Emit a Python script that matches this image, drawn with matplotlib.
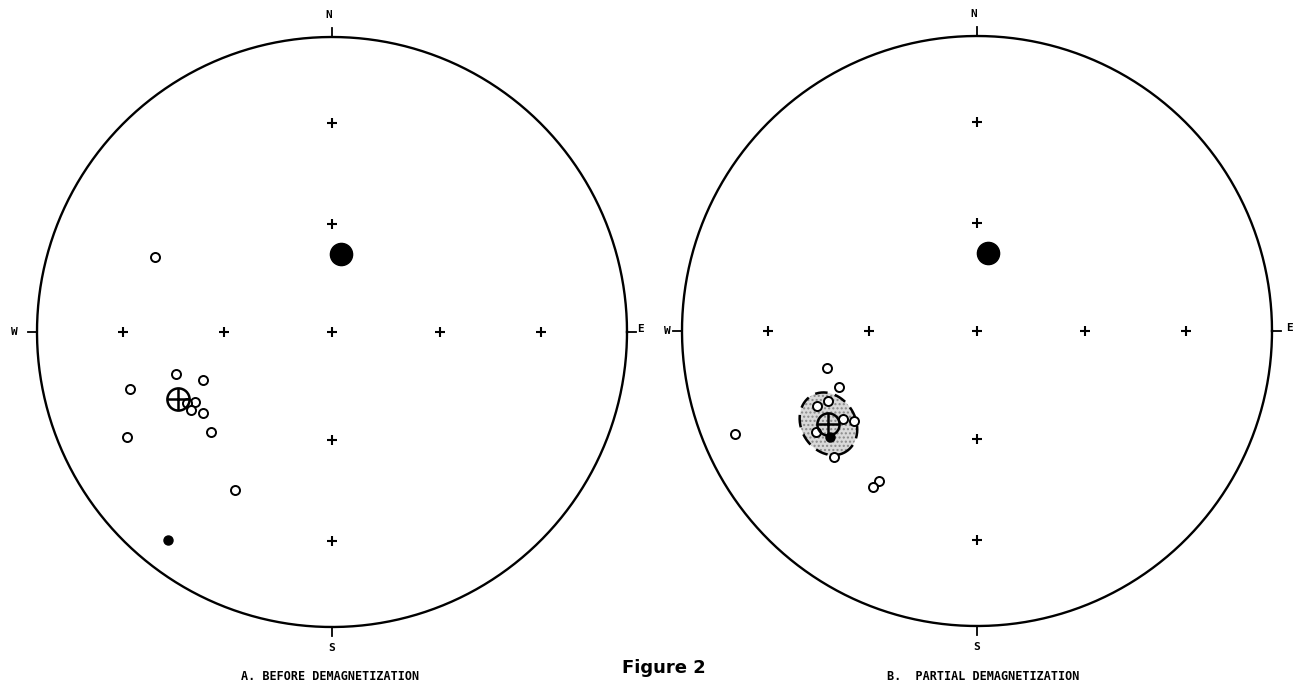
import numpy as np
import matplotlib
matplotlib.use("Agg")
import matplotlib.pyplot as plt
from matplotlib.patches import Polygon

# ---------------- data (declination, inclination in degrees) ----------------
# A. Before demagnetization
a_open_dec = [293.0, 255.0, 249.6, 254.2, 242.8, 243.9, 241.0, 238.0, 243.0, 230.3, 211.5]
a_open_inc = [35.0, 44.6, 51.4, 29.6, 46.7, 44.6, 44.7, 47.1, 23.0, 45.7, 37.2]
a_solid_dec = [218.3]
a_solid_inc = [11.2]
a_mean_dec, a_mean_inc = 246.5, 42.5
a_field_dec, a_field_inc = 6.6, 68.3

# B. Partial demagnetization
b_open_dec = [247.0, 256.0, 247.8, 244.9, 244.9, 236.7, 234.0, 237.8, 228.7, 213.2, 213.7]
b_open_inc = [11.9, 46.6, 48.2, 43.6, 39.8, 44.9, 47.1, 35.8, 35.7, 39.2, 36.7]
b_solid_dec = [234.2]
b_solid_inc = [38.4]
b_mean_dec, b_mean_inc = 238.0, 40.2
b_alpha95 = 8.2
b_field_dec, b_field_inc = 8.0, 68.2

grid_offsets = [30, 60]          # degrees from vertical for the grid crosses
grid_azimuths = [0, 90, 180, 270]

caption_a = "A. BEFORE DEMAGNETIZATION"
caption_b = "B.  PARTIAL DEMAGNETIZATION"
fig_title = "Figure 2"


def proj(dec, inc):
    dec = np.radians(np.asarray(dec, dtype=float))
    theta = np.radians(90.0 - np.abs(np.asarray(inc, dtype=float)))
    r = np.sqrt(2.0) * np.sin(theta / 2.0)
    return r * np.sin(dec), r * np.cos(dec)


def small_circle(dec, inc, a95, n=200):
    d, i = np.radians(dec), np.radians(inc)
    m = np.array([np.cos(i) * np.cos(d), np.cos(i) * np.sin(d), np.sin(i)])
    u = np.cross(m, [0, 0, 1.0]); u /= np.linalg.norm(u)
    v = np.cross(m, u)
    psi = np.linspace(0, 2 * np.pi, n)
    a = np.radians(a95)
    p = (np.cos(a) * m[:, None] + np.sin(a) * (np.cos(psi) * u[:, None] + np.sin(psi) * v[:, None]))
    decs = np.degrees(np.arctan2(p[1], p[0]))
    incs = np.degrees(np.arcsin(np.clip(p[2], -1, 1)))
    return proj(decs, incs)


W, H = 1302, 687
fig = plt.figure(figsize=(W / 100, H / 100), dpi=100)
fig.patch.set_facecolor("white")

R_PX = 295.0
HALF = 1.1


def make_ax(cx, cy):
    half_px = HALF * R_PX
    ax = fig.add_axes([(cx - half_px) / W, (H - (cy + half_px)) / H, 2 * half_px / W, 2 * half_px / H])
    ax.set_xlim(-HALF, HALF)
    ax.set_ylim(-HALF, HALF)
    ax.set_aspect("equal")
    ax.axis("off")
    return ax


def draw_net(ax, w_label_dx=-1.075, e_label_dx=1.045):
    t = np.linspace(0, 2 * np.pi, 600)
    ax.plot(np.cos(t), np.sin(t), color="black", lw=1.7)
    tk = 0.03
    ax.plot([0, 0], [1, 1 + tk], color="black", lw=1.3)
    ax.plot([0, 0], [-1, -1 - tk], color="black", lw=1.3)
    ax.plot([-1, -1 - tk], [0, 0], color="black", lw=1.3)
    ax.plot([1, 1 + tk], [0, 0], color="black", lw=1.3)
    lab = dict(family="DejaVu Sans Mono", fontsize=8, fontweight="bold", ha="center", va="center")
    ax.text(-0.01, 1.075, "N", **lab)
    ax.text(0.0, -1.07, "S", **lab)
    ax.text(w_label_dx, 0.0, "W", **lab)
    ax.text(e_label_dx, 0.01, "E", **lab)
    # grid crosses
    gx, gy = [0.0], [0.0]
    for az in grid_azimuths:
        for off in grid_offsets:
            x, y = proj(az, 90 - off)
            gx.append(float(x)); gy.append(float(y))
    ax.plot(gx, gy, ls="none", marker="+", ms=7.5, mew=1.5, color="black")


def draw_data(ax, od, oi, sd, si, md, mi, fd, fi):
    x, y = proj(od, oi)
    ax.plot(x, y, ls="none", marker="o", ms=6.5, mfc="white", mec="black", mew=1.4, zorder=4)
    x, y = proj(sd, si)
    ax.plot(x, y, ls="none", marker="o", ms=6.5, mfc="black", mec="black", zorder=5)
    x, y = proj(fd, fi)
    ax.plot(x, y, ls="none", marker="o", ms=16, mfc="black", mec="black", zorder=5)
    x, y = proj(md, mi)
    ax.plot(x, y, ls="none", marker="o", ms=16, mfc="none", mec="black", mew=1.8, zorder=6)
    ax.plot(x, y, ls="none", marker="+", ms=16, mec="black", mew=1.8, zorder=6)


# ---- left net ----
axA = make_ax(332, 332)
draw_net(axA, w_label_dx=-1.078, e_label_dx=1.045)
draw_data(axA, a_open_dec, a_open_inc, a_solid_dec, a_solid_inc,
          a_mean_dec, a_mean_inc, a_field_dec, a_field_inc)

# ---- right net ----
axB = make_ax(977, 331)
draw_net(axB, w_label_dx=-1.05, e_label_dx=1.06)
cxs, cys = small_circle(b_mean_dec, b_mean_inc, b_alpha95)
pts = np.column_stack([cxs, cys])
axB.add_patch(Polygon(pts, closed=True, facecolor="#d9d9d9", edgecolor="none", zorder=2))
axB.add_patch(Polygon(pts, closed=True, facecolor="none", edgecolor="#8a8a8a", hatch="....", lw=0, zorder=2))
axB.plot(cxs, cys, color="black", lw=1.8, ls=(0, (5, 3)), zorder=3)
draw_data(axB, b_open_dec, b_open_inc, b_solid_dec, b_solid_inc,
          b_mean_dec, b_mean_inc, b_field_dec, b_field_inc)

# ---- captions ----
fig.text(330 / W, 1 - 676 / H, caption_a, family="DejaVu Sans Mono", fontsize=8.5,
         fontweight="bold", ha="center", va="center")
fig.text(983 / W, 1 - 676 / H, caption_b, family="DejaVu Sans Mono", fontsize=8.5,
         fontweight="bold", ha="center", va="center")
fig.text(664 / W, 1 - 668 / H, fig_title, family="DejaVu Sans", fontsize=13,
         fontweight="bold", ha="center", va="center")

fig.savefig("out.png", dpi=100, facecolor="white")
